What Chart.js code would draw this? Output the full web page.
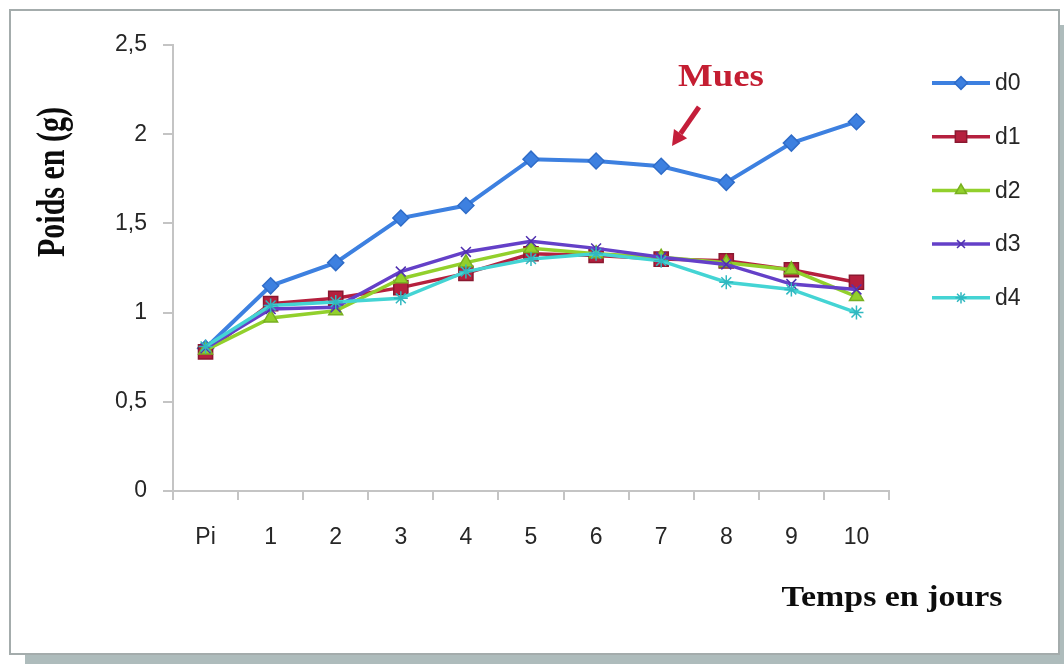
<!DOCTYPE html>
<html>
<head>
<meta charset="utf-8">
<script src="https://cdn.jsdelivr.net/npm/chart.js@4.4.1/dist/chart.umd.min.js"></script>
<style>
  html, body { margin: 0; padding: 0; background: #ffffff; }
  #wrap { position: relative; width: 1064px; height: 664px; }
</style>
</head>
<body>
<div id="wrap"><canvas id="c" width="1064" height="664"></canvas></div>
<script>
// Days of measurement (Pi = initial weight)
const categories = ['Pi', '1', '2', '3', '4', '5', '6', '7', '8', '9', '10'];

// Mean weight (g) per group
const d0 = [0.80, 1.15, 1.28, 1.53, 1.60, 1.86, 1.85, 1.82, 1.73, 1.95, 2.07];
const d1 = [0.78, 1.05, 1.08, 1.14, 1.22, 1.33, 1.32, 1.30, 1.29, 1.24, 1.17];
const d2 = [0.79, 0.97, 1.01, 1.19, 1.28, 1.36, 1.33, 1.31, 1.28, 1.24, 1.09];
const d3 = [0.80, 1.02, 1.03, 1.23, 1.34, 1.40, 1.36, 1.31, 1.27, 1.16, 1.13];
const d4 = [0.81, 1.04, 1.06, 1.08, 1.23, 1.30, 1.33, 1.29, 1.17, 1.13, 1.00];

const seriesNames = ['d0', 'd1', 'd2', 'd3', 'd4'];
const yMin = 0, yMax = 2.5, yStep = 0.5;

const yTitle = 'Poids en (g)';
const xTitle = 'Temps en jours';
const noteText = 'Mues';

const styles = [
  { color: '#3d80e0', border: '#2f6cc8', point: 'rectRot', radius: 8, width: 4 },
  { color: '#b5203e', border: '#8a1830', point: 'rect', radius: 10, width: 3.5 },
  { color: '#92d02c', border: '#78b020', point: 'triangle', radius: 8, width: 3.5 },
  { color: '#6440c8', border: '#5030b0', point: 'crossRot', radius: 7, width: 3.5 },
  { color: '#44d4d4', border: '#30b8c0', point: 'star', radius: 7, width: 3.5 }
];

const seriesData = [d0, d1, d2, d3, d4];
const datasets = seriesData.map((vals, i) => ({
  label: seriesNames[i],
  data: vals,
  borderColor: styles[i].color,
  backgroundColor: styles[i].color,
  pointBorderColor: styles[i].border,
  pointBackgroundColor: styles[i].color,
  pointStyle: styles[i].point,
  pointRadius: styles[i].radius,
  pointBorderWidth: 1.5,
  borderWidth: styles[i].width,
  tension: 0,
  order: 4 - i
}));

const tickFont = { family: '"Liberation Sans", Arial, sans-serif', size: 23 };

const decor = {
  id: 'decor',
  beforeDraw(chart) {
    const ctx = chart.ctx;
    ctx.save();
    ctx.fillStyle = '#ffffff';
    ctx.fillRect(0, 0, chart.width, chart.height);
    // drop shadow
    ctx.fillStyle = '#aebcbc';
    ctx.fillRect(25, 655, 1039, 9);
    ctx.fillRect(1060, 25, 4, 639);
    // frame
    ctx.strokeStyle = '#a4acac';
    ctx.lineWidth = 2;
    ctx.strokeRect(10, 10, 1049, 644);
    ctx.restore();
  },
  afterDraw(chart) {
    const ctx = chart.ctx;
    ctx.save();

    // legend
    const lx0 = 932, lx1 = 990, ly0 = 83, lstep = 53.7;
    chart.data.datasets.forEach((ds, i) => {
      const y = ly0 + i * lstep;
      ctx.strokeStyle = ds.borderColor;
      ctx.lineWidth = ds.borderWidth;
      ctx.beginPath();
      ctx.moveTo(lx0, y);
      ctx.lineTo(lx1, y);
      ctx.stroke();
      ctx.fillStyle = ds.pointBackgroundColor;
      ctx.strokeStyle = ds.pointBorderColor;
      ctx.lineWidth = 1.5;
      Chart.helpers.drawPoint(ctx, {
        pointStyle: ds.pointStyle,
        radius: ds.pointRadius * 0.8,
        borderWidth: 1.5,
        rotation: 0
      }, (lx0 + lx1) / 2, y);
      ctx.fillStyle = '#262626';
      ctx.font = '23px "Liberation Sans", Arial, sans-serif';
      ctx.textAlign = 'left';
      ctx.textBaseline = 'middle';
      ctx.fillText(ds.label, 995, y + 1);
    });

    // y-axis title
    ctx.fillStyle = '#0c0c0c';
    ctx.textAlign = 'center';
    ctx.textBaseline = 'middle';
    ctx.save();
    ctx.translate(54, 182);
    ctx.rotate(-Math.PI / 2);
    ctx.scale(1, 1.3);
    ctx.font = 'bold 30px "Liberation Serif", "Times New Roman", serif';
    ctx.fillText(yTitle, 0, 0);
    ctx.restore();

    // x-axis title
    ctx.save();
    ctx.translate(892, 598);
    ctx.scale(1.13, 1);
    ctx.font = 'bold 30px "Liberation Serif", "Times New Roman", serif';
    ctx.fillText(xTitle, 0, 0);
    ctx.restore();

    // moult annotation
    ctx.save();
    ctx.translate(721, 78);
    ctx.scale(1.15, 1);
    ctx.fillStyle = '#c41e32';
    ctx.font = 'bold 32px "Liberation Serif", "Times New Roman", serif';
    ctx.fillText(noteText, 0, 0);
    ctx.restore();

    // arrow
    const ax0 = 699, ay0 = 107, ax1 = 672, ay1 = 146;
    const ang = Math.atan2(ay1 - ay0, ax1 - ax0);
    const headLen = 15, headW = 8;
    const bx = ax1 - headLen * Math.cos(ang), by = ay1 - headLen * Math.sin(ang);
    ctx.strokeStyle = '#c41e3a';
    ctx.fillStyle = '#c41e3a';
    ctx.lineWidth = 5;
    ctx.beginPath();
    ctx.moveTo(ax0, ay0);
    ctx.lineTo(bx, by);
    ctx.stroke();
    ctx.beginPath();
    ctx.moveTo(ax1, ay1);
    ctx.lineTo(bx + headW * Math.sin(ang), by - headW * Math.cos(ang));
    ctx.lineTo(bx - headW * Math.sin(ang), by + headW * Math.cos(ang));
    ctx.closePath();
    ctx.fill();

    ctx.restore();
  }
};

new Chart(document.getElementById('c'), {
  type: 'line',
  data: { labels: categories, datasets: datasets },
  plugins: [decor],
  options: {
    responsive: false,
    animation: false,
    devicePixelRatio: 1,
    layout: { padding: { left: 0, top: 45, right: 175, bottom: 113 } },
    plugins: {
      legend: { display: false },
      tooltip: { enabled: false }
    },
    scales: {
      x: {
        type: 'category',
        offset: true,
        grid: {
          offset: true,
          drawOnChartArea: false,
          drawTicks: true,
          tickLength: 9,
          color: '#c4c4c4',
          lineWidth: 2
        },
        border: { color: '#c4c4c4', width: 2 },
        ticks: {
          color: '#262626',
          font: tickFont,
          padding: 24,
          maxRotation: 0,
          autoSkip: false
        },
        afterFit(scale) { scale.height = 60; }
      },
      y: {
        min: yMin,
        max: yMax,
        grid: {
          drawOnChartArea: false,
          drawTicks: true,
          tickLength: 10,
          color: '#c4c4c4',
          lineWidth: 2
        },
        border: { color: '#c4c4c4', width: 2 },
        ticks: {
          stepSize: yStep,
          color: '#262626',
          font: tickFont,
          padding: 16,
          callback: (v) => String(v).replace('.', ',')
        },
        afterFit(scale) { scale.width = 173; }
      }
    }
  }
});
</script>
</body>
</html>
